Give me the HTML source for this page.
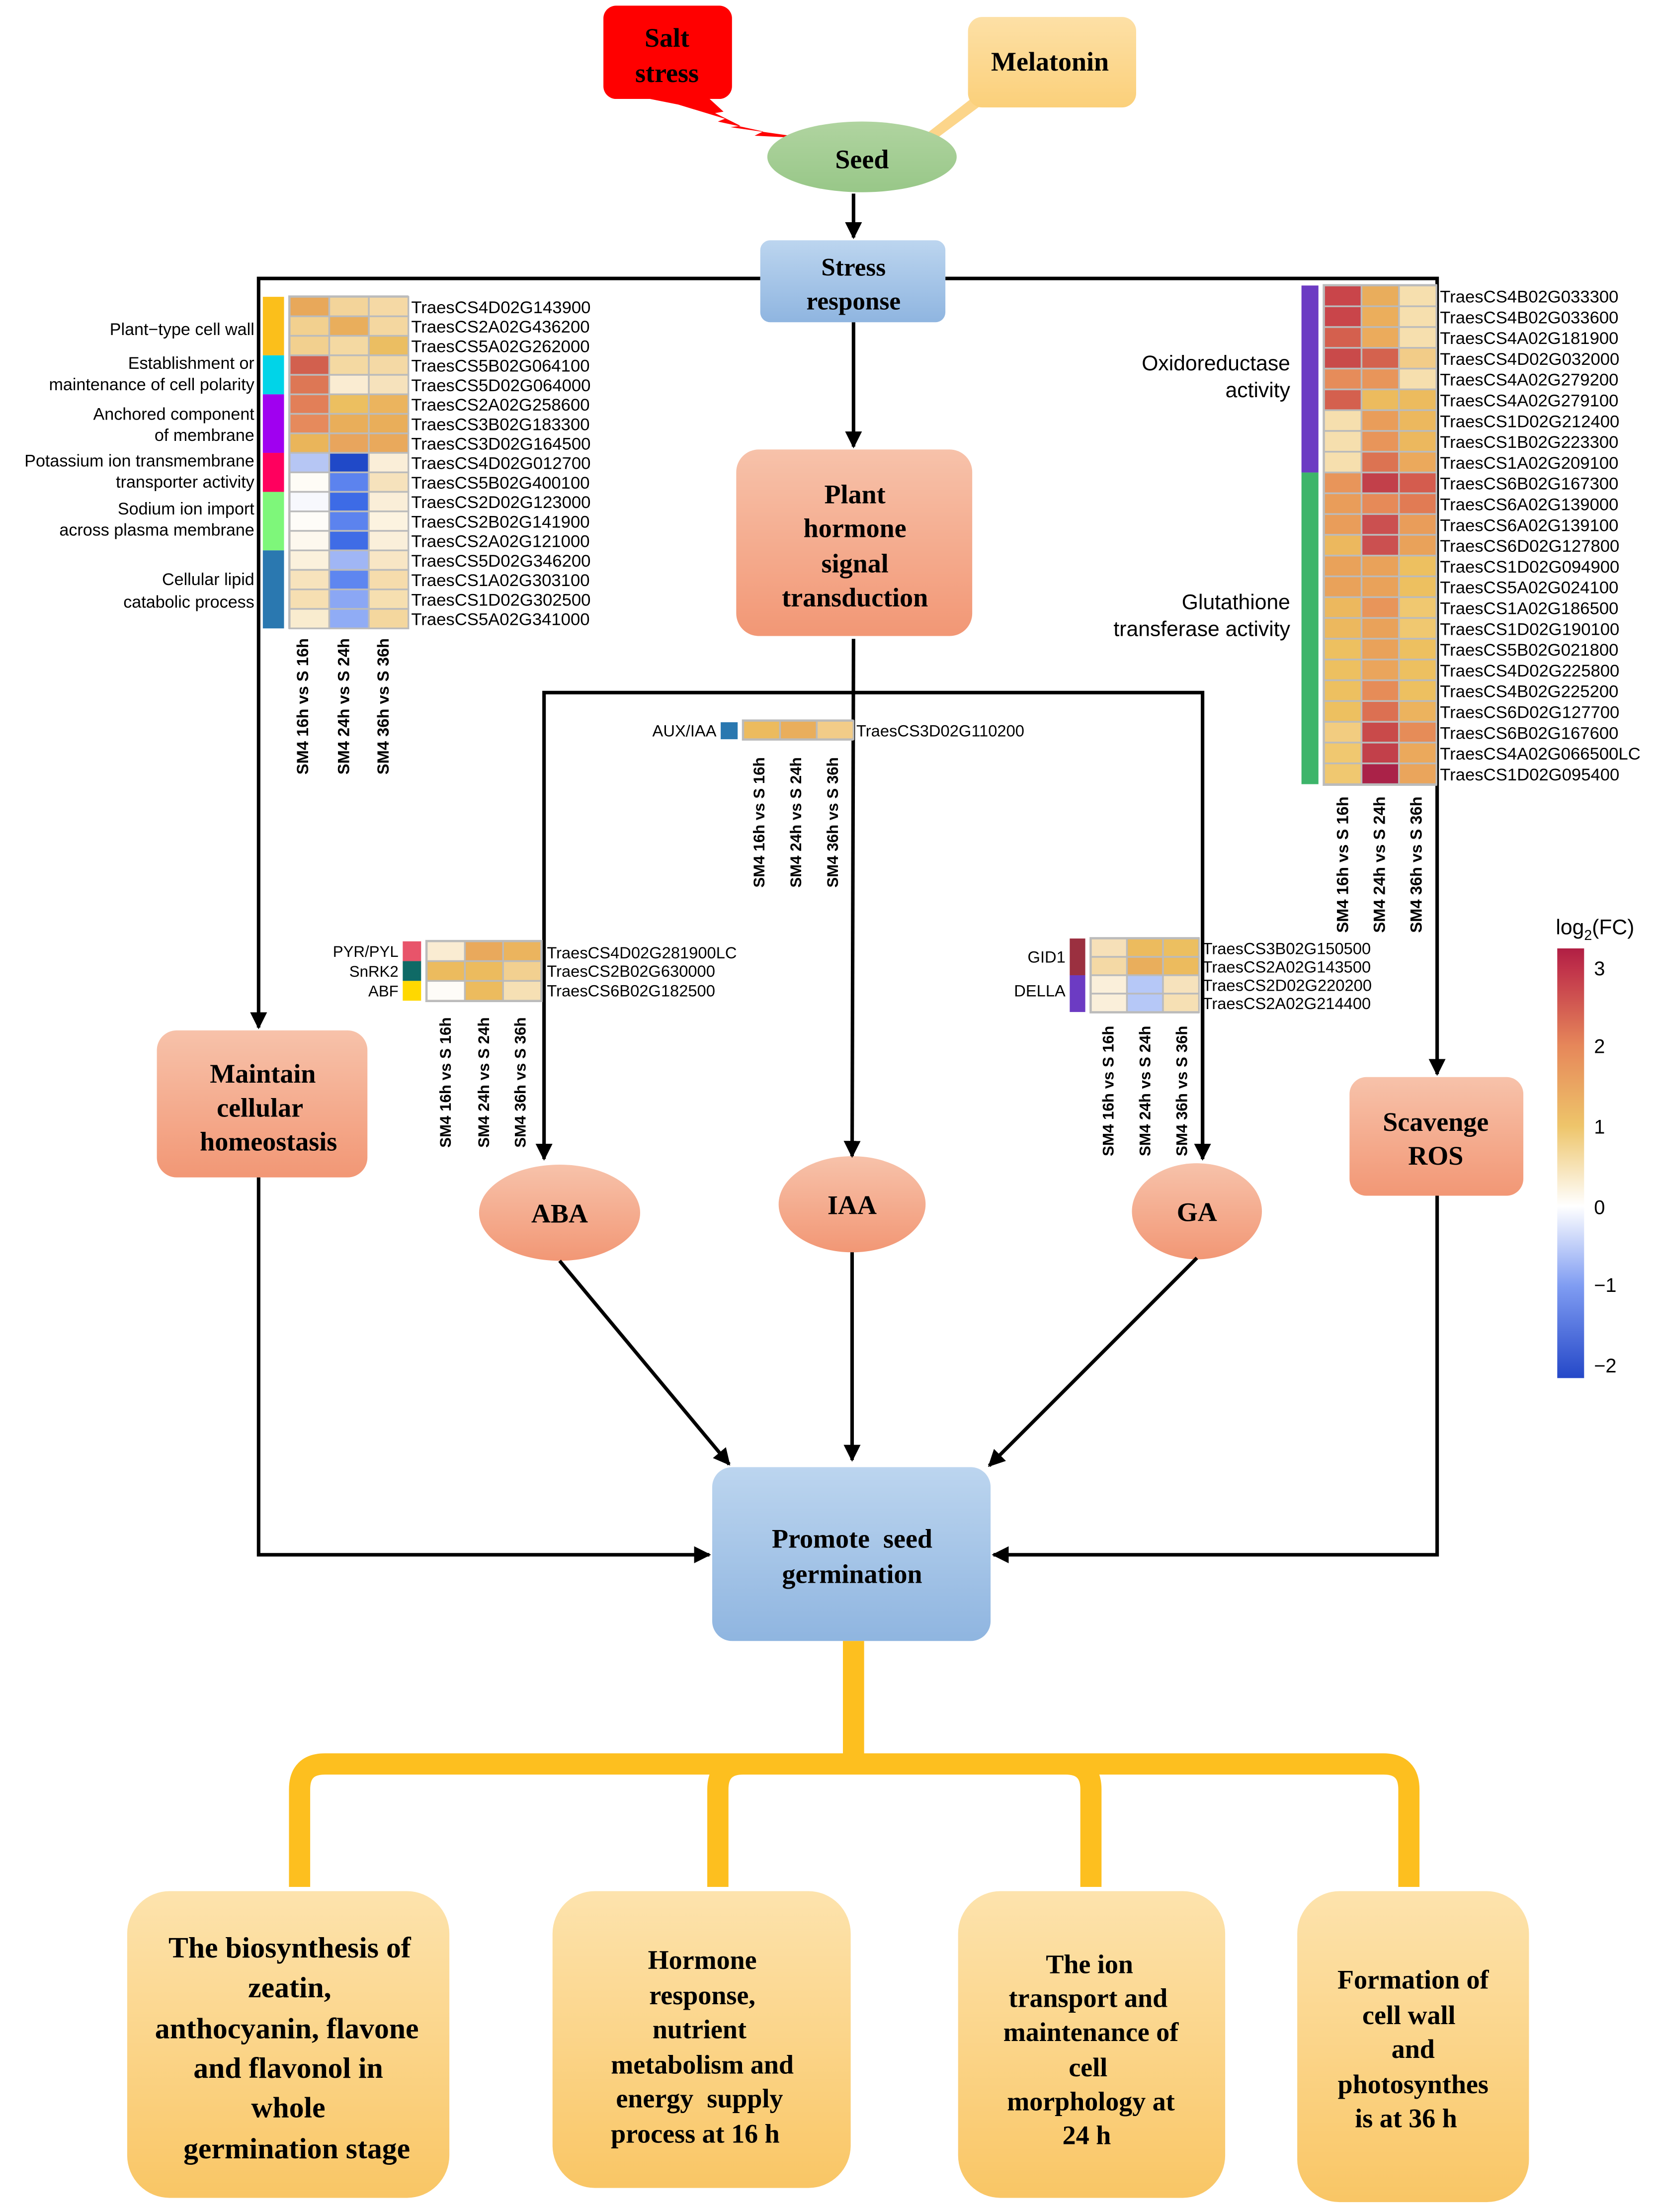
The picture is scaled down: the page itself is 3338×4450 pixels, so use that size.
<!DOCTYPE html>
<html><head><meta charset="utf-8"><style>html,body{margin:0;padding:0;background:#fff}svg{display:block}</style></head><body>
<svg width="3338" height="4450" viewBox="0 0 1174 1565" preserveAspectRatio="none" xmlns="http://www.w3.org/2000/svg">
<defs>
<linearGradient id="blue" x1="0" y1="0" x2="0" y2="1"><stop offset="0" stop-color="#bcd5ef"/><stop offset="1" stop-color="#8fb5e0"/></linearGradient>
<linearGradient id="sal" x1="0" y1="0" x2="0" y2="1"><stop offset="0" stop-color="#f7c2aa"/><stop offset="1" stop-color="#f29775"/></linearGradient>
<linearGradient id="yel" x1="0" y1="0" x2="0" y2="1"><stop offset="0" stop-color="#fde3ad"/><stop offset="1" stop-color="#f9c665"/></linearGradient>
<linearGradient id="mel" x1="0" y1="0" x2="0" y2="1"><stop offset="0" stop-color="#fde0a6"/><stop offset="1" stop-color="#fbd07a"/></linearGradient>
<linearGradient id="grn" x1="0" y1="0" x2="0" y2="1"><stop offset="0" stop-color="#b0d4a0"/><stop offset="1" stop-color="#98c788"/></linearGradient>
<linearGradient id="leg" x1="0" y1="0" x2="0" y2="1">
<stop offset="0" stop-color="#b01f44"/><stop offset="0.046" stop-color="#c0324a"/><stop offset="0.227" stop-color="#e6875a"/><stop offset="0.414" stop-color="#eec56a"/><stop offset="0.6" stop-color="#ffffff"/><stop offset="0.786" stop-color="#7f9cf2"/><stop offset="1" stop-color="#2548c8"/></linearGradient>
<marker id="a2" viewBox="0 0 10 10" refX="9" refY="5" markerWidth="12" markerHeight="12" orient="auto" markerUnits="userSpaceOnUse"><path d="M0,0 L10,5 L0,10 z" fill="#000"/></marker>
</defs>
<g font-family="'Liberation Serif',serif" font-weight="bold" text-anchor="middle" fill="#000">
<!-- Salt stress -->
<rect x="427" y="4" width="91" height="66" rx="9" fill="#ff0000"/>
<polygon points="450,68 500,68 512,79 506,80 524,89 517,90 573,98 534,96 540,93 508,86 513,84 480,74" fill="#ff0000"/>
<text x="472" y="33" font-size="19">Salt</text><text x="472" y="58" font-size="19">stress</text>
<!-- Melatonin -->
<polygon points="687,70 695,74 660,100 653,101 655,95" fill="#fcd58a"/>
<rect x="685" y="12" width="119" height="64" rx="10" fill="url(#mel)"/>
<text x="743" y="50" font-size="19">Melatonin</text>
<!-- Seed -->
<ellipse cx="610" cy="111" rx="67" ry="25" fill="url(#grn)"/>
<text x="610" y="119" font-size="19">Seed</text>
<!-- ellipses (drawn before arrows so tips show) -->
<ellipse cx="396" cy="858" rx="57" ry="34" fill="url(#sal)"/><text x="396" y="865" font-size="19">ABA</text>
<ellipse cx="603" cy="852" rx="52" ry="34" fill="url(#sal)"/><text x="603" y="859" font-size="19">IAA</text>
<ellipse cx="847" cy="857" rx="46" ry="34" fill="url(#sal)"/><text x="847" y="864" font-size="19">GA</text>
<g stroke="#000" stroke-width="2.5" fill="none">
<line x1="604" y1="137" x2="604" y2="168" marker-end="url(#a2)"/>
<polyline points="538,197 183,197 183,727" marker-end="url(#a2)"/>
<polyline points="669,197 1017,197 1017,760" marker-end="url(#a2)"/>
<line x1="604" y1="228" x2="604" y2="316" marker-end="url(#a2)"/>
<line x1="604" y1="452" x2="603" y2="818" marker-end="url(#a2)"/>
<polyline points="851,820 851,490 385,490 385,820" marker-end="url(#a2)"/>
<line x1="851" y1="700" x2="851" y2="820" marker-end="url(#a2)"/>
<line x1="396" y1="892" x2="516" y2="1036" marker-end="url(#a2)"/>
<line x1="603" y1="886" x2="603" y2="1033" marker-end="url(#a2)"/>
<line x1="847" y1="890" x2="700" y2="1037" marker-end="url(#a2)"/>
<polyline points="183,833 183,1100 502,1100" marker-end="url(#a2)"/>
<polyline points="1017,846 1017,1100 703,1100" marker-end="url(#a2)"/>
</g>
<!-- Stress response -->
<rect x="538" y="170" width="131" height="58" rx="7" fill="url(#blue)"/>
<text x="604" y="195" font-size="18">Stress</text><text x="604" y="219" font-size="18">response</text>
<!-- Plant hormone -->
<rect x="521" y="318" width="167" height="132" rx="16" fill="url(#sal)"/>
<text x="605" y="356" font-size="19">Plant</text><text x="605" y="380" font-size="19">hormone</text><text x="605" y="405" font-size="19">signal</text><text x="605" y="429" font-size="19">transduction</text>
<!-- Maintain -->
<rect x="111" y="729" width="149" height="104" rx="14" fill="url(#sal)"/>
<text x="186" y="766" font-size="19">Maintain</text><text x="184" y="790" font-size="19">cellular</text><text x="190" y="814" font-size="19">homeostasis</text>
<!-- ROS -->
<rect x="955" y="762" width="123" height="84" rx="12" fill="url(#sal)"/>
<text x="1016" y="800" font-size="19">Scavenge</text><text x="1016" y="824" font-size="19">ROS</text>
<!-- Promote -->
<rect x="504" y="1038" width="197" height="123" rx="14" fill="url(#blue)"/>
<text x="603" y="1095" font-size="19" xml:space="preserve">Promote  seed</text><text x="603" y="1120" font-size="19">germination</text>
<!-- yellow tree -->
<path d="M604,1161 V1248 M212,1335 V1266 Q212,1248 230,1248 H979 Q997,1248 997,1266 V1335 M508,1335 V1266 Q508,1248 526,1248 M772,1335 V1266 Q772,1248 754,1248" stroke="#fdbf1f" stroke-width="15" fill="none"/>
<!-- bottom boxes -->
<rect x="90" y="1338" width="228" height="217" rx="30" fill="url(#yel)"/>
<g font-size="21"><text x="205" y="1385">The biosynthesis of</text><text x="205" y="1413">zeatin,</text><text x="203" y="1442">anthocyanin, flavone</text><text x="204" y="1470">and flavonol in</text><text x="204" y="1498">whole</text><text x="210" y="1527">germination stage</text></g>
<rect x="391" y="1338" width="211" height="210" rx="30" fill="url(#yel)"/>
<g font-size="19"><text x="497" y="1393">Hormone</text><text x="497" y="1418">response,</text><text x="495" y="1442">nutrient</text><text x="497" y="1467">metabolism and</text><text x="495" y="1491" xml:space="preserve">energy  supply</text><text x="492" y="1516">process at 16 h</text></g>
<rect x="678" y="1338" width="189" height="217" rx="30" fill="url(#yel)"/>
<g font-size="19"><text x="771" y="1396">The ion</text><text x="770" y="1420">transport and</text><text x="772" y="1444">maintenance of</text><text x="770" y="1469">cell</text><text x="772" y="1493">morphology at</text><text x="769" y="1517">24 h</text></g>
<rect x="918" y="1338" width="164" height="220" rx="30" fill="url(#yel)"/>
<g font-size="19"><text x="1000" y="1407">Formation of</text><text x="997" y="1432">cell wall</text><text x="1000" y="1456">and</text><text x="1000" y="1481">photosynthes</text><text x="995" y="1505">is at 36 h</text></g>
</g>

<g font-family="'Liberation Sans',sans-serif" fill="#000">
<!-- LEFT HEATMAP -->
<rect x="186" y="210" width="15" height="41.4" fill="#fbbf1b"/>
<rect x="186" y="251.4" width="15" height="27.6" fill="#00d4e8"/>
<rect x="186" y="279" width="15" height="41.4" fill="#a000f0"/>
<rect x="186" y="320.4" width="15" height="27.6" fill="#ff005e"/>
<rect x="186" y="348" width="15" height="41.4" fill="#7ef77a"/>
<rect x="186" y="389.4" width="15" height="55.2" fill="#2a78b0"/>
<rect x="204" y="209" width="85" height="236" fill="#bbb"/>
<g stroke="#bbb" stroke-width="1.2">
<rect x="205" y="210" width="28" height="13.8" fill="#e8a85a"/><rect x="233" y="210" width="28" height="13.8" fill="#f3d49a"/><rect x="261" y="210" width="28" height="13.8" fill="#f5d9a5"/>
<rect x="205" y="223.8" width="28" height="13.8" fill="#f2d08f"/><rect x="233" y="223.8" width="28" height="13.8" fill="#e9ae5c"/><rect x="261" y="223.8" width="28" height="13.8" fill="#f4d7a0"/>
<rect x="205" y="237.6" width="28" height="13.8" fill="#f2d08f"/><rect x="233" y="237.6" width="28" height="13.8" fill="#f4d9a2"/><rect x="261" y="237.6" width="28" height="13.8" fill="#ebbe62"/>
<rect x="205" y="251.4" width="28" height="13.8" fill="#d2604e"/><rect x="233" y="251.4" width="28" height="13.8" fill="#f4d9a2"/><rect x="261" y="251.4" width="28" height="13.8" fill="#f4d9a5"/>
<rect x="205" y="265.2" width="28" height="13.8" fill="#dd7755"/><rect x="233" y="265.2" width="28" height="13.8" fill="#faecd2"/><rect x="261" y="265.2" width="28" height="13.8" fill="#f6e2bc"/>
<rect x="205" y="279" width="28" height="13.8" fill="#e27f58"/><rect x="233" y="279" width="28" height="13.8" fill="#ecbf60"/><rect x="261" y="279" width="28" height="13.8" fill="#ebb45e"/>
<rect x="205" y="292.8" width="28" height="13.8" fill="#e68a5c"/><rect x="233" y="292.8" width="28" height="13.8" fill="#e9ae5a"/><rect x="261" y="292.8" width="28" height="13.8" fill="#e9ae5a"/>
<rect x="205" y="306.6" width="28" height="13.8" fill="#eab55a"/><rect x="233" y="306.6" width="28" height="13.8" fill="#e8a55d"/><rect x="261" y="306.6" width="28" height="13.8" fill="#e9a95c"/>
<rect x="205" y="320.4" width="28" height="13.8" fill="#b6c6f4"/><rect x="233" y="320.4" width="28" height="13.8" fill="#2049c8"/><rect x="261" y="320.4" width="28" height="13.8" fill="#faeed8"/>
<rect x="205" y="334.2" width="28" height="13.8" fill="#fefcf6"/><rect x="233" y="334.2" width="28" height="13.8" fill="#5c83ee"/><rect x="261" y="334.2" width="28" height="13.8" fill="#f6e2bc"/>
<rect x="205" y="348" width="28" height="13.8" fill="#f7f8fd"/><rect x="233" y="348" width="28" height="13.8" fill="#3d6be6"/><rect x="261" y="348" width="28" height="13.8" fill="#faeed8"/>
<rect x="205" y="361.8" width="28" height="13.8" fill="#fefcf8"/><rect x="233" y="361.8" width="28" height="13.8" fill="#5c83ee"/><rect x="261" y="361.8" width="28" height="13.8" fill="#fcf3e0"/>
<rect x="205" y="375.6" width="28" height="13.8" fill="#fdf8ee"/><rect x="233" y="375.6" width="28" height="13.8" fill="#3f6ce6"/><rect x="261" y="375.6" width="28" height="13.8" fill="#faefda"/>
<rect x="205" y="389.4" width="28" height="13.8" fill="#fbf1dc"/><rect x="233" y="389.4" width="28" height="13.8" fill="#a0b6f5"/><rect x="261" y="389.4" width="28" height="13.8" fill="#f8e6c5"/>
<rect x="205" y="403.2" width="28" height="13.8" fill="#f7e3bc"/><rect x="233" y="403.2" width="28" height="13.8" fill="#5e86f0"/><rect x="261" y="403.2" width="28" height="13.8" fill="#f6dcac"/>
<rect x="205" y="417" width="28" height="13.8" fill="#f6dfb2"/><rect x="233" y="417" width="28" height="13.8" fill="#8ba7f4"/><rect x="261" y="417" width="28" height="13.8" fill="#f6dfb0"/>
<rect x="205" y="430.8" width="28" height="13.8" fill="#f9eccf"/><rect x="233" y="430.8" width="28" height="13.8" fill="#90acf5"/><rect x="261" y="430.8" width="28" height="13.8" fill="#f4d79e"/>
</g>
<g font-size="12.2">
<text x="291" y="221.5">TraesCS4D02G143900</text><text x="291" y="235.3">TraesCS2A02G436200</text><text x="291" y="249.1">TraesCS5A02G262000</text><text x="291" y="262.9">TraesCS5B02G064100</text><text x="291" y="276.7">TraesCS5D02G064000</text><text x="291" y="290.5">TraesCS2A02G258600</text><text x="291" y="304.3">TraesCS3B02G183300</text><text x="291" y="318.1">TraesCS3D02G164500</text><text x="291" y="331.9">TraesCS4D02G012700</text><text x="291" y="345.7">TraesCS5B02G400100</text><text x="291" y="359.5">TraesCS2D02G123000</text><text x="291" y="373.3">TraesCS2B02G141900</text><text x="291" y="387.1">TraesCS2A02G121000</text><text x="291" y="400.9">TraesCS5D02G346200</text><text x="291" y="414.7">TraesCS1A02G303100</text><text x="291" y="428.5">TraesCS1D02G302500</text><text x="291" y="442.3">TraesCS5A02G341000</text>
</g>
<g font-size="12" text-anchor="end">
<text x="180" y="237">Plant−type cell wall</text>
<text x="180" y="261">Establishment or</text><text x="180" y="276">maintenance of cell polarity</text>
<text x="180" y="297">Anchored component</text><text x="180" y="312">of membrane</text>
<text x="180" y="330">Potassium ion transmembrane</text><text x="180" y="345">transporter activity</text>
<text x="180" y="364">Sodium ion import</text><text x="180" y="379">across plasma membrane</text>
<text x="180" y="414">Cellular lipid</text><text x="180" y="430">catabolic process</text>
</g>
<g font-size="11.5" font-weight="bold">
<text transform="translate(218,548) rotate(-90)">SM4 16h vs S 16h</text>
<text transform="translate(247,548) rotate(-90)">SM4 24h vs S 24h</text>
<text transform="translate(275,548) rotate(-90)">SM4 36h vs S 36h</text>
</g>

<!-- RIGHT HEATMAP -->
<rect x="921" y="202" width="12" height="132.3" fill="#6c3bc3"/>
<rect x="921" y="334.3" width="12" height="220.5" fill="#3db56a"/>
<rect x="936" y="201" width="81" height="355" fill="#bbb"/>
<g stroke="#bbb" stroke-width="1.2">
<rect x="937" y="202" width="26.5" height="14.7" fill="#c9454a"/><rect x="963.5" y="202" width="26.5" height="14.7" fill="#e9ad5c"/><rect x="990" y="202" width="26.5" height="14.7" fill="#f6dfae"/>
<rect x="937" y="216.7" width="26.5" height="14.7" fill="#c9454a"/><rect x="963.5" y="216.7" width="26.5" height="14.7" fill="#ebae5c"/><rect x="990" y="216.7" width="26.5" height="14.7" fill="#f6dfae"/>
<rect x="937" y="231.4" width="26.5" height="14.7" fill="#d4604e"/><rect x="963.5" y="231.4" width="26.5" height="14.7" fill="#ebab5c"/><rect x="990" y="231.4" width="26.5" height="14.7" fill="#f6dfae"/>
<rect x="937" y="246.1" width="26.5" height="14.7" fill="#c94a4a"/><rect x="963.5" y="246.1" width="26.5" height="14.7" fill="#d4624e"/><rect x="990" y="246.1" width="26.5" height="14.7" fill="#f2cc88"/>
<rect x="937" y="260.8" width="26.5" height="14.7" fill="#e68c5a"/><rect x="963.5" y="260.8" width="26.5" height="14.7" fill="#e8955a"/><rect x="990" y="260.8" width="26.5" height="14.7" fill="#f6dfae"/>
<rect x="937" y="275.5" width="26.5" height="14.7" fill="#d4604e"/><rect x="963.5" y="275.5" width="26.5" height="14.7" fill="#ecbb5e"/><rect x="990" y="275.5" width="26.5" height="14.7" fill="#ecbb5e"/>
<rect x="937" y="290.2" width="26.5" height="14.7" fill="#f6dfae"/><rect x="963.5" y="290.2" width="26.5" height="14.7" fill="#e99d5a"/><rect x="990" y="290.2" width="26.5" height="14.7" fill="#ecb85e"/>
<rect x="937" y="304.9" width="26.5" height="14.7" fill="#f6dfae"/><rect x="963.5" y="304.9" width="26.5" height="14.7" fill="#e8955a"/><rect x="990" y="304.9" width="26.5" height="14.7" fill="#ecb85e"/>
<rect x="937" y="319.6" width="26.5" height="14.7" fill="#f6dfae"/><rect x="963.5" y="319.6" width="26.5" height="14.7" fill="#dc7352"/><rect x="990" y="319.6" width="26.5" height="14.7" fill="#eba95c"/>
<rect x="937" y="334.3" width="26.5" height="14.7" fill="#e8955a"/><rect x="963.5" y="334.3" width="26.5" height="14.7" fill="#c2404a"/><rect x="990" y="334.3" width="26.5" height="14.7" fill="#d45c4e"/>
<rect x="937" y="349" width="26.5" height="14.7" fill="#e99d5a"/><rect x="963.5" y="349" width="26.5" height="14.7" fill="#e68a58"/><rect x="990" y="349" width="26.5" height="14.7" fill="#e17b54"/>
<rect x="937" y="363.7" width="26.5" height="14.7" fill="#e99d5a"/><rect x="963.5" y="363.7" width="26.5" height="14.7" fill="#cb5050"/><rect x="990" y="363.7" width="26.5" height="14.7" fill="#e99d5a"/>
<rect x="937" y="378.4" width="26.5" height="14.7" fill="#ecb85e"/><rect x="963.5" y="378.4" width="26.5" height="14.7" fill="#cb5050"/><rect x="990" y="378.4" width="26.5" height="14.7" fill="#e9a25a"/>
<rect x="937" y="393.1" width="26.5" height="14.7" fill="#e9a25a"/><rect x="963.5" y="393.1" width="26.5" height="14.7" fill="#e9a25a"/><rect x="990" y="393.1" width="26.5" height="14.7" fill="#edc060"/>
<rect x="937" y="407.8" width="26.5" height="14.7" fill="#e9a25a"/><rect x="963.5" y="407.8" width="26.5" height="14.7" fill="#e9a25a"/><rect x="990" y="407.8" width="26.5" height="14.7" fill="#edc060"/>
<rect x="937" y="422.5" width="26.5" height="14.7" fill="#ecb85e"/><rect x="963.5" y="422.5" width="26.5" height="14.7" fill="#e8955a"/><rect x="990" y="422.5" width="26.5" height="14.7" fill="#f0c870"/>
<rect x="937" y="437.2" width="26.5" height="14.7" fill="#ecb85e"/><rect x="963.5" y="437.2" width="26.5" height="14.7" fill="#e9a25a"/><rect x="990" y="437.2" width="26.5" height="14.7" fill="#f0c870"/>
<rect x="937" y="451.9" width="26.5" height="14.7" fill="#edc060"/><rect x="963.5" y="451.9" width="26.5" height="14.7" fill="#e9a25a"/><rect x="990" y="451.9" width="26.5" height="14.7" fill="#edc060"/>
<rect x="937" y="466.6" width="26.5" height="14.7" fill="#edc060"/><rect x="963.5" y="466.6" width="26.5" height="14.7" fill="#eaa55c"/><rect x="990" y="466.6" width="26.5" height="14.7" fill="#edc060"/>
<rect x="937" y="481.3" width="26.5" height="14.7" fill="#edc060"/><rect x="963.5" y="481.3" width="26.5" height="14.7" fill="#e68c58"/><rect x="990" y="481.3" width="26.5" height="14.7" fill="#edc060"/>
<rect x="937" y="496" width="26.5" height="14.7" fill="#edc060"/><rect x="963.5" y="496" width="26.5" height="14.7" fill="#dc7052"/><rect x="990" y="496" width="26.5" height="14.7" fill="#ecb35e"/>
<rect x="937" y="510.7" width="26.5" height="14.7" fill="#f2cc80"/><rect x="963.5" y="510.7" width="26.5" height="14.7" fill="#c94a4a"/><rect x="990" y="510.7" width="26.5" height="14.7" fill="#e68c58"/>
<rect x="937" y="525.4" width="26.5" height="14.7" fill="#f0c870"/><rect x="963.5" y="525.4" width="26.5" height="14.7" fill="#c2404a"/><rect x="990" y="525.4" width="26.5" height="14.7" fill="#eba95c"/>
<rect x="937" y="540.1" width="26.5" height="14.7" fill="#f0c870"/><rect x="963.5" y="540.1" width="26.5" height="14.7" fill="#aa2248"/><rect x="990" y="540.1" width="26.5" height="14.7" fill="#eaa55c"/>
</g>
<g font-size="12.2">
<text x="1019" y="214">TraesCS4B02G033300</text><text x="1019" y="228.7">TraesCS4B02G033600</text><text x="1019" y="243.4">TraesCS4A02G181900</text><text x="1019" y="258.1">TraesCS4D02G032000</text><text x="1019" y="272.8">TraesCS4A02G279200</text><text x="1019" y="287.5">TraesCS4A02G279100</text><text x="1019" y="302.2">TraesCS1D02G212400</text><text x="1019" y="316.9">TraesCS1B02G223300</text><text x="1019" y="331.6">TraesCS1A02G209100</text><text x="1019" y="346.3">TraesCS6B02G167300</text><text x="1019" y="361">TraesCS6A02G139000</text><text x="1019" y="375.7">TraesCS6A02G139100</text><text x="1019" y="390.4">TraesCS6D02G127800</text><text x="1019" y="405.1">TraesCS1D02G094900</text><text x="1019" y="419.8">TraesCS5A02G024100</text><text x="1019" y="434.5">TraesCS1A02G186500</text><text x="1019" y="449.2">TraesCS1D02G190100</text><text x="1019" y="463.9">TraesCS5B02G021800</text><text x="1019" y="478.6">TraesCS4D02G225800</text><text x="1019" y="493.3">TraesCS4B02G225200</text><text x="1019" y="508">TraesCS6D02G127700</text><text x="1019" y="522.7">TraesCS6B02G167600</text><text x="1019" y="537.4">TraesCS4A02G066500LC</text><text x="1019" y="552.1">TraesCS1D02G095400</text>
</g>
<g font-size="15" text-anchor="end">
<text x="913" y="262">Oxidoreductase</text><text x="913" y="281">activity</text>
<text x="913" y="431">Glutathione</text><text x="913" y="450">transferase activity</text>
</g>
<g font-size="11.5" font-weight="bold">
<text transform="translate(954,660) rotate(-90)">SM4 16h vs S 16h</text>
<text transform="translate(980,660) rotate(-90)">SM4 24h vs S 24h</text>
<text transform="translate(1006,660) rotate(-90)">SM4 36h vs S 36h</text>
</g>

<!-- AUX/IAA -->
<rect x="510" y="511" width="12" height="12" fill="#2a78b0"/>
<rect x="525" y="509" width="79" height="15" fill="#bbb"/>
<g stroke="#bbb" stroke-width="1.2"><rect x="526" y="510" width="26" height="13" fill="#ecbb5e"/><rect x="552" y="510" width="26" height="13" fill="#e9ae5c"/><rect x="578" y="510" width="26" height="13" fill="#f2cc88"/></g>
<text x="507" y="521" font-size="11.5" text-anchor="end">AUX/IAA</text>
<text x="606" y="521" font-size="11.5">TraesCS3D02G110200</text>
<g font-size="11" font-weight="bold">
<text transform="translate(541,628) rotate(-90)">SM4 16h vs S 16h</text>
<text transform="translate(567,628) rotate(-90)">SM4 24h vs S 24h</text>
<text transform="translate(593,628) rotate(-90)">SM4 36h vs S 36h</text>
</g>

<!-- ABA heatmap -->
<rect x="285" y="666" width="13" height="14" fill="#e8546a"/><rect x="285" y="680" width="13" height="14" fill="#0f6a66"/><rect x="285" y="694" width="13" height="14" fill="#ffd800"/>
<rect x="301" y="665" width="83" height="44" fill="#bbb"/>
<g stroke="#bbb" stroke-width="1.2">
<rect x="302" y="666" width="27" height="14" fill="#faecd2"/><rect x="329" y="666" width="27" height="14" fill="#e9a95c"/><rect x="356" y="666" width="27" height="14" fill="#ebb45e"/>
<rect x="302" y="680" width="27" height="14" fill="#ecbb5e"/><rect x="329" y="680" width="27" height="14" fill="#ecbb5e"/><rect x="356" y="680" width="27" height="14" fill="#f2d090"/>
<rect x="302" y="694" width="27" height="14" fill="#fefcf8"/><rect x="329" y="694" width="27" height="14" fill="#ecbb5e"/><rect x="356" y="694" width="27" height="14" fill="#f6e0b4"/>
</g>
<g font-size="11" text-anchor="end"><text x="282" y="677">PYR/PYL</text><text x="282" y="691">SnRK2</text><text x="282" y="705">ABF</text></g>
<g font-size="11.5"><text x="387" y="678">TraesCS4D02G281900LC</text><text x="387" y="691">TraesCS2B02G630000</text><text x="387" y="705">TraesCS6B02G182500</text></g>
<g font-size="11" font-weight="bold">
<text transform="translate(319,812) rotate(-90)">SM4 16h vs S 16h</text>
<text transform="translate(346,812) rotate(-90)">SM4 24h vs S 24h</text>
<text transform="translate(372,812) rotate(-90)">SM4 36h vs S 36h</text>
</g>

<!-- GA heatmap -->
<rect x="757" y="664" width="11" height="26" fill="#9b3040"/><rect x="757" y="690" width="11" height="26" fill="#6c3bc3"/>
<rect x="771" y="663" width="78" height="54" fill="#bbb"/>
<g stroke="#bbb" stroke-width="1.2">
<rect x="772" y="664" width="25.5" height="13" fill="#f6e0b8"/><rect x="797.5" y="664" width="25.5" height="13" fill="#ecbb5e"/><rect x="823" y="664" width="25.5" height="13" fill="#ecbf60"/>
<rect x="772" y="677" width="25.5" height="13" fill="#f4d9a5"/><rect x="797.5" y="677" width="25.5" height="13" fill="#e9ae5c"/><rect x="823" y="677" width="25.5" height="13" fill="#ecbb5e"/>
<rect x="772" y="690" width="25.5" height="13" fill="#faefda"/><rect x="797.5" y="690" width="25.5" height="13" fill="#b6c8f7"/><rect x="823" y="690" width="25.5" height="13" fill="#f6e2bc"/>
<rect x="772" y="703" width="25.5" height="13" fill="#faefda"/><rect x="797.5" y="703" width="25.5" height="13" fill="#b6c8f7"/><rect x="823" y="703" width="25.5" height="13" fill="#f6e0b4"/>
</g>
<g font-size="11.5" text-anchor="end"><text x="754" y="681">GID1</text><text x="754" y="705">DELLA</text></g>
<g font-size="11.5"><text x="851" y="675">TraesCS3B02G150500</text><text x="851" y="688">TraesCS2A02G143500</text><text x="851" y="701">TraesCS2D02G220200</text><text x="851" y="714">TraesCS2A02G214400</text></g>
<g font-size="11" font-weight="bold">
<text transform="translate(788,818) rotate(-90)">SM4 16h vs S 16h</text>
<text transform="translate(814,818) rotate(-90)">SM4 24h vs S 24h</text>
<text transform="translate(840,818) rotate(-90)">SM4 36h vs S 36h</text>
</g>

<!-- legend -->
<text x="1101" y="661" font-size="15">log<tspan font-size="10" dy="4">2</tspan><tspan dy="-4">(FC)</tspan></text>
<rect x="1102" y="671" width="19" height="304" fill="url(#leg)"/>
<g font-size="14"><text x="1128" y="690">3</text><text x="1128" y="745">2</text><text x="1128" y="802">1</text><text x="1128" y="859">0</text><text x="1128" y="914">−1</text><text x="1128" y="971">−2</text></g>
</g>
</svg>
</body></html>
